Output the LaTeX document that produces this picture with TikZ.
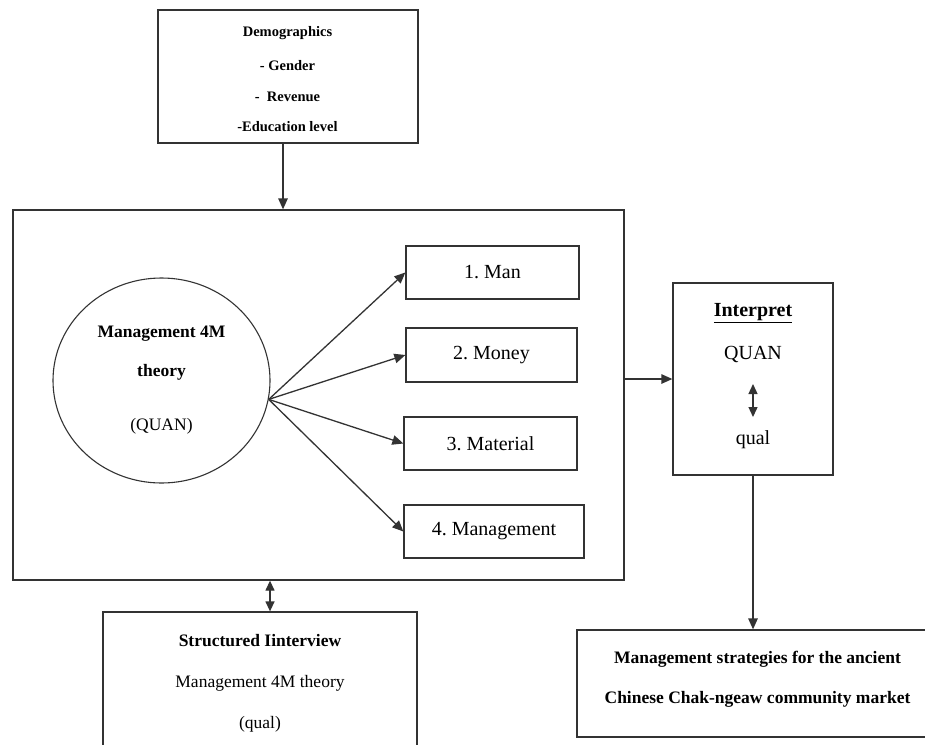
\documentclass[tikz,border=0pt]{standalone}
\usepackage{fontspec}
\setmainfont{Liberation Serif}
\usetikzlibrary{arrows.meta,shapes.geometric}
\definecolor{linec}{gray}{0.2}
\frenchspacing
\begin{document}
\begin{tikzpicture}[x=1pt,y=-1pt,
  box/.style={draw=linec, line width=1.3pt, rectangle, inner sep=0pt},
  oval/.style={draw=linec, line width=1.1pt, ellipse, inner sep=0pt},
  conn/.style={draw=linec, line width=1.3pt},
  arr/.style={conn, -{Triangle[length=11pt,width=9.5pt]}},
  darr/.style={conn, {Triangle[length=10pt,width=9pt]}-{Triangle[length=10pt,width=9pt]}},
  tsmall/.style={font=\fontsize{14.5}{17}\selectfont\bfseries, inner sep=0pt},
  tmid/.style={font=\fontsize{17.5}{21}\selectfont, inner sep=0pt},
  tmidb/.style={font=\fontsize{17.5}{21}\selectfont\bfseries, inner sep=0pt},
  tbig/.style={font=\fontsize{20}{24}\selectfont, inner sep=0pt},
]
\useasboundingbox (0,0) rectangle (925,744);
\clip (0,0) rectangle (925,744);
\fill[white] (0,0) rectangle (925,744);

% Demographics
\node[box, minimum width=260pt, minimum height=133pt] (demo) at (288,76.5) {};
\node[tsmall] (d1) at (287.5,33) {Demographics};
\node[tsmall] (d2) at (287.5,66) {- Gender};
\node[tsmall] (d3) at (287.5,97) {-\ \ Revenue};
\node[tsmall] (d4) at (287.5,127) {-Education level};

% big box
\node[box, minimum width=611pt, minimum height=370pt] (big) at (318.5,395) {};

% circle
\node[oval, minimum width=217pt, minimum height=205pt] (circ) at (161.5,380.5) {};
\node[tmidb] (c1) at (161.5,334) {Management 4M};
\node[tmidb] (c2) at (161.5,372) {theory};
\node[tmid] (c3) at (161.5,426) {(QUAN)};

% four boxes
\node[box, minimum width=173pt, minimum height=53pt] (man) at (492.5,272.5) {};
\node[tbig] at (man.center) {1. Man};
\node[box, minimum width=171pt, minimum height=54pt] (money) at (491.5,355) {};
\node[tbig] at (money.center) {2. Money};
\node[box, minimum width=173pt, minimum height=53pt] (mat) at (490.5,443.5) {};
\node[tbig] at (mat.center) {3. Material};
\node[box, minimum width=180pt, minimum height=53pt] (mgmt) at (494,531.5) {};
\node[tbig] at (mgmt.center) {4. Management};

% Interpret
\node[box, minimum width=160pt, minimum height=192pt] (interp) at (753,379) {};
\node[tbig, font=\fontsize{20}{24}\selectfont\bfseries] (i1) at (753,313) {\underline{Interpret}};
\node[tbig] (i2) at (753,354) {QUAN};
\node[tbig] (i3) at (753,440) {qual};
\coordinate (da1) at (753,384);
\coordinate (da2) at (753,417);

% final box
\node[box, minimum width=360pt, minimum height=107pt] (final) at (757,683.5) {};
\node[tmidb] (f1) at (757.5,659) {Management strategies for the ancient};
\node[tmidb] (f2) at (757.5,699) {Chinese Chak-ngeaw community market};

% interview box
\node[box, minimum width=314pt, minimum height=150pt] (intv) at (260,687) {};
\node[tmidb] (s1) at (260,641) {Structured Iinterview};
\node[tmid] (s2) at (260,683) {Management 4M theory};
\node[tmid] (s3) at (260,724) {(qual)};

% connectors
\coordinate (ax) at (283,0);
\coordinate (bx) at (270,0);
\draw[arr] (demo.south -| ax) -- (big.north -| ax);
\draw[arr] (circ.-10) -- (man.west);
\draw[arr] (circ.-10) -- (money.west);
\draw[arr] (circ.-10) -- (mat.west);
\draw[arr] (circ.-10) -- (mgmt.west);
\draw[arr] (big.east |- interp.west) -- (interp.west);
\draw[darr] (da1) -- (da2);
\draw[arr] (interp.south) -- (final.north -| interp.south);
\draw[darr] (big.south -| bx) -- (intv.north -| bx);
\end{tikzpicture}
\end{document}
